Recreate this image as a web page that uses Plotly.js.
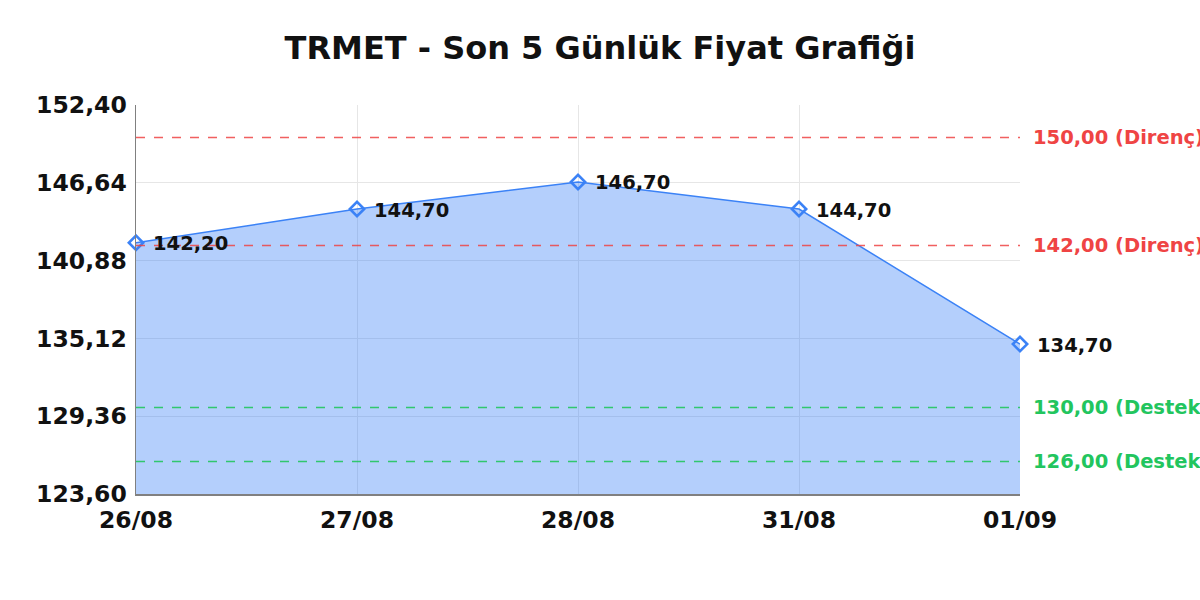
<!DOCTYPE html>
<html>
<head>
<meta charset="utf-8">
<script src="https://cdn.plot.ly/plotly-3.0.1.min.js"></script>
<style>html,body{margin:0;padding:0;background:#fff;}#chart{width:1200px;height:600px;}</style>
</head>
<body>
<div id="chart"></div>
<script>
const dates = ["26/08", "27/08", "28/08", "31/08", "01/09"];
const prices = [142.20, 144.70, 146.70, 144.70, 134.70];
const priceLabels = ["142,20", "144,70", "146,70", "144,70", "134,70"];
const resistanceLevels = [150.00, 142.00];
const resistanceLabels = ["150,00 (Direnç)", "142,00 (Direnç)"];
const supportLevels = [130.00, 126.00];
const supportLabels = ["130,00 (Destek)", "126,00 (Destek)"];
const yTicks = [123.60, 129.36, 135.12, 140.88, 146.64, 152.40];
const yTickLabels = ["123,60", "129,36", "135,12", "140,88", "146,64", "152,40"];

const FONT = "DejaVu Sans, sans-serif";
const RED_LINE = "rgba(239,68,68,0.85)";
const GREEN_LINE = "rgba(34,197,94,0.9)";
const RED_TEXT = "rgba(239,68,68,1)";
const GREEN_TEXT = "rgba(34,197,94,1)";

const trace = {
  x: dates,
  y: prices,
  type: "scatter",
  mode: "lines+markers",
  fill: "tozeroy",
  fillcolor: "rgba(59,130,246,0.38)",
  line: {color: "#3b82f6", width: 1.5},
  marker: {symbol: "diamond-open", size: 11, color: "#3b82f6", line: {width: 2.6, color: "#3b82f6"}},
  hoverinfo: "skip",
  cliponaxis: false
};

const shapes = [];
const annotations = [];
function addLevel(val, label, lineColor, textColor) {
  shapes.push({type: "line", xref: "paper", x0: 0, x1: 1, yref: "y", y0: val, y1: val,
    line: {color: lineColor, width: 1.5, dash: "dash"}, layer: "above"});
  annotations.push({xref: "paper", x: 1, xanchor: "left", xshift: 11, yref: "y", y: val,
    yanchor: "middle", text: label, showarrow: false,
    font: {family: FONT, size: 19.5, color: textColor, weight: "bold"}});
}
resistanceLevels.forEach((v, i) => addLevel(v, resistanceLabels[i], RED_LINE, RED_TEXT));
supportLevels.forEach((v, i) => addLevel(v, supportLabels[i], GREEN_LINE, GREEN_TEXT));

dates.forEach((d, i) => {
  annotations.push({xref: "x", x: i, yref: "y", y: prices[i], xanchor: "left", yanchor: "middle",
    xshift: 15, yshift: -1, text: priceLabels[i], showarrow: false,
    font: {family: FONT, size: 19.5, color: "#111", weight: "bold"}});
});

const layout = {
  width: 1200, height: 600,
  margin: {l: 136, r: 180, t: 105, b: 106},
  paper_bgcolor: "#fff", plot_bgcolor: "#fff",
  separators: ",.",
  title: {text: "TRMET - Son 5 Günlük Fiyat Grafiği", x: 0.5, xanchor: "center", y: 0.92, yanchor: "middle",
    font: {family: FONT, size: 32, color: "#111", weight: "bold"}},
  xaxis: {type: "category", range: [0, dates.length - 1], showgrid: true, gridcolor: "#e6e6e6", gridwidth: 1,
    showline: true, linecolor: "#808080", linewidth: 1.5, zeroline: false, ticks: "", ticklabelstandoff: 4,
    tickfont: {family: FONT, size: 23.5, color: "#111", weight: "bold"}, fixedrange: true},
  yaxis: {range: [yTicks[0], yTicks[yTicks.length - 1]], tickvals: yTicks, ticktext: yTickLabels,
    showgrid: true, gridcolor: "#e6e6e6", gridwidth: 1, showline: true, linecolor: "#808080", linewidth: 1.5,
    zeroline: false, ticks: "", ticklabelstandoff: 3,
    tickfont: {family: FONT, size: 23.5, color: "#111", weight: "bold"}, fixedrange: true},
  shapes: shapes,
  annotations: annotations,
  showlegend: false
};

Plotly.newPlot("chart", [trace], layout, {staticPlot: true, displayModeBar: false});
</script>
</body>
</html>
